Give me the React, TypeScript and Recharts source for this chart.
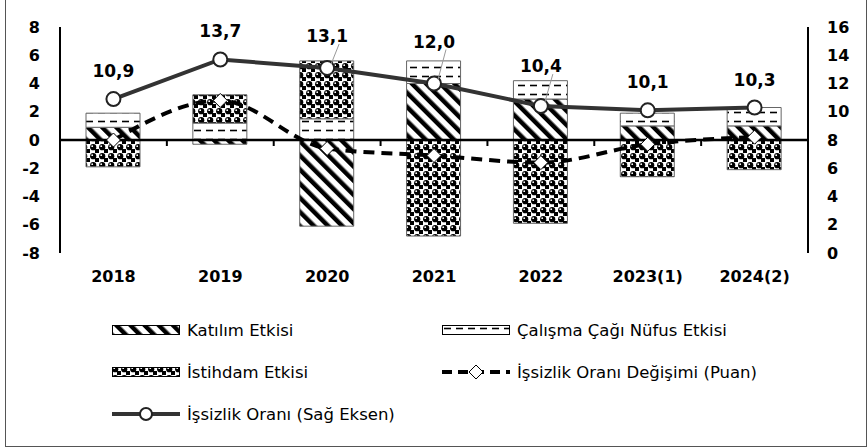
import {
  ComposedChart,
  Bar,
  Line,
  XAxis,
  YAxis,
  ReferenceLine,
  LabelList,
  Legend,
} from 'recharts';

const years = ['2018', '2019', '2020', '2021', '2022', '2023(1)', '2024(2)'];
const katilim = [0.9, -0.3, -6.1, 4.0, 2.9, 1.0, 1.0];
const calismaCagi = [1.0, 1.2, 1.5, 1.6, 1.3, 0.9, 1.3];
const istihdam = [-1.9, 2.0, 4.1, -6.8, -5.9, -2.6, -2.1];
const oranDegisimi = [0.0, 2.8, -0.6, -1.1, -1.6, -0.3, 0.2];
const issizlikOrani = [10.9, 13.7, 13.1, 12.0, 10.4, 10.1, 10.3];

const leftTicks = [-8, -6, -4, -2, 0, 2, 4, 6, 8];
const rightTicks = [0, 2, 4, 6, 8, 10, 12, 14, 16];

// extra lift for the labels that sit over a bar (drawn with a leader line)
const labelLift = [0, 0, 4, 14, 12, 0, 0];

const N_KATILIM = 'Katılım Etkisi';
const N_CALISMA = 'Çalışma Çağı Nüfus Etkisi';
const N_ISTIHDAM = 'İstihdam Etkisi';
const N_DEGISIM = 'İşsizlik Oranı Değişimi (Puan)';
const N_ORAN = 'İşsizlik Oranı (Sağ Eksen)';

const data = years.map((year, i) => ({
  year,
  katilim: katilim[i],
  calisma: calismaCagi[i],
  istihdam: istihdam[i],
  degisim: oranDegisimi[i],
  oran: issizlikOrani[i],
}));

const FONT = '"DejaVu Sans", Verdana, sans-serif';
const tickStyle = { fill: '#000', fontSize: 16, fontWeight: 700, fontFamily: FONT };

function Diamond(props: any) {
  const { cx, cy } = props;
  if (cx == null || cy == null) return null;
  const r = 7;
  return (
    <polygon
      points={`${cx},${cy - r} ${cx + r},${cy} ${cx},${cy + r} ${cx - r},${cy}`}
      fill="#fff"
      stroke="#000"
      strokeWidth={1}
    />
  );
}

// zero line with little ticks between the categories
function ZeroLine(props: any) {
  const { x1, y1, x2, y2 } = props;
  const step = (x2 - x1) / years.length;
  return (
    <g>
      <line x1={x1} y1={y1} x2={x2} y2={y2} stroke="#000" strokeWidth={2.5} />
      {years.slice(1).map((_, i) => (
        <line
          key={i}
          x1={x1 + step * (i + 1)}
          x2={x1 + step * (i + 1)}
          y1={y1}
          y2={y1 + 6}
          stroke="#000"
          strokeWidth={2}
        />
      ))}
    </g>
  );
}

function RateLabel(props: any) {
  const { x, y, width, value, index } = props;
  const cx = x + (width || 0) / 2;
  const lift = labelLift[index] || 0;
  const baseY = y - 22 - lift;
  return (
    <g>
      {lift > 0 && (
        <line x1={cx + 4} y1={y - 4} x2={cx + 12} y2={baseY + 2} stroke="#999" strokeWidth={1} />
      )}
      <text
        x={cx}
        y={baseY}
        textAnchor="middle"
        fill="#000"
        fontSize={17}
        fontWeight={700}
        fontFamily={FONT}
      >
        {Number(value).toFixed(1).replace('.', ',')}
      </text>
    </g>
  );
}

function LegendIcon({ kind }: { kind: string }) {
  if (kind === 'line') {
    return (
      <svg width={68} height={16}>
        <line x1={0} y1={8} x2={68} y2={8} stroke="#333" strokeWidth={4} />
        <circle cx={34} cy={8} r={6} fill="#fff" stroke="#222" strokeWidth={2} />
      </svg>
    );
  }
  if (kind === 'dash') {
    return (
      <svg width={68} height={16}>
        <line x1={0} y1={8} x2={68} y2={8} stroke="#000" strokeWidth={4} strokeDasharray="10 6" />
        <polygon points="34,1 41,8 34,15 27,8" fill="#fff" stroke="#000" strokeWidth={1} />
      </svg>
    );
  }
  return (
    <svg width={68} height={12}>
      <rect x={0.5} y={1.5} width={67} height={9} fill={`url(#${kind})`} stroke="#000" strokeWidth={1} />
    </svg>
  );
}

const legendItems = [
  { name: N_KATILIM, kind: 'pat-hatch' },
  { name: N_CALISMA, kind: 'pat-dash' },
  { name: N_ISTIHDAM, kind: 'pat-balls' },
  { name: N_DEGISIM, kind: 'dash' },
  { name: N_ORAN, kind: 'line' },
];

function ChartLegend() {
  return (
    <div
      style={{
        display: 'grid',
        gridTemplateColumns: '330px 330px',
        gridAutoRows: '42px',
        fontFamily: FONT,
        fontSize: 16.5,
        color: '#000',
      }}
    >
      {legendItems.map((it) => (
        <div key={it.name} style={{ display: 'flex', alignItems: 'center', gap: 7 }}>
          <LegendIcon kind={it.kind} />
          <span>{it.name}</span>
        </div>
      ))}
    </div>
  );
}

export default function App() {
  return (
    <div style={{ position: 'absolute', left: 0, top: 0, width: 868, height: 448, background: '#fff' }}>
      <ComposedChart
        width={868}
        height={448}
        data={data}
        stackOffset="sign"
        margin={{ top: 27, right: 0, bottom: 155, left: 0 }}
        barSize={54}
      >
        <defs>
          <pattern id="pat-hatch" width={10} height={10} patternUnits="userSpaceOnUse" patternTransform="rotate(-45)">
            <rect width={10} height={10} fill="#fff" />
            <rect x={0} y={0} width={4.5} height={10} fill="#000" />
          </pattern>
          <pattern id="pat-dash" width={12} height={9} patternUnits="userSpaceOnUse">
            <rect width={12} height={9} fill="#fff" />
            <line x1={2} y1={4.5} x2={9} y2={4.5} stroke="#000" strokeWidth={1.6} />
          </pattern>
          <pattern id="pat-balls" width={9} height={9} patternUnits="userSpaceOnUse">
            <rect width={9} height={9} fill="#fff" />
            <rect x={5} y={5} width={4} height={4} fill="#000" />
            <circle cx={3.2} cy={3.2} r={3.1} fill="#000" />
            <circle cx={2.2} cy={2.2} r={0.9} fill="#fff" />
          </pattern>
        </defs>
        <XAxis
          dataKey="year"
          axisLine={false}
          tickLine={false}
          tickSize={0}
          tickMargin={18}
          height={40}
          tick={tickStyle}
          interval={0}
        />
        <YAxis
          yAxisId="left"
          domain={[-8, 8]}
          ticks={leftTicks}
          width={60}
          tickLine={false}
          tickSize={0}
          tickMargin={20}
          axisLine={{ stroke: '#000', strokeWidth: 2 }}
          tick={tickStyle}
          allowDataOverflow
        />
        <YAxis
          yAxisId="right"
          orientation="right"
          domain={[0, 16]}
          ticks={rightTicks}
          width={60}
          tickLine={false}
          tickSize={0}
          tickMargin={19}
          axisLine={{ stroke: '#000', strokeWidth: 2 }}
          tick={{ ...tickStyle, textAnchor: 'start' }}
        />
        <Bar yAxisId="left" dataKey="katilim" name={N_KATILIM} stackId="s" fill="url(#pat-hatch)" stroke="#666" strokeWidth={1} isAnimationActive={false} />
        <Bar yAxisId="left" dataKey="calisma" name={N_CALISMA} stackId="s" fill="url(#pat-dash)" stroke="#666" strokeWidth={1} isAnimationActive={false} />
        <Bar yAxisId="left" dataKey="istihdam" name={N_ISTIHDAM} stackId="s" fill="url(#pat-balls)" stroke="#666" strokeWidth={1} isAnimationActive={false} />
        <ReferenceLine yAxisId="left" y={0} shape={ZeroLine} />
        <Line
          yAxisId="left"
          type="monotone"
          dataKey="degisim"
          name={N_DEGISIM}
          stroke="#000"
          strokeWidth={4}
          strokeDasharray="11 7"
          dot={<Diamond />}
          activeDot={false}
          isAnimationActive={false}
        />
        <Line
          yAxisId="right"
          type="linear"
          dataKey="oran"
          name={N_ORAN}
          stroke="#333"
          strokeWidth={4}
          dot={{ r: 7, fill: '#fff', stroke: '#222', strokeWidth: 2 }}
          activeDot={false}
          isAnimationActive={false}
        >
          <LabelList dataKey="oran" content={<RateLabel />} />
        </Line>
        <Legend
          layout="horizontal"
          verticalAlign="middle"
          align="center"
          wrapperStyle={{ top: 309, left: 112, width: 700 }}
          content={<ChartLegend />}
        />
      </ComposedChart>
      <div
        style={{
          position: 'absolute',
          left: 5,
          top: -2,
          width: 862,
          height: 449,
          border: '1px solid #555',
          boxSizing: 'border-box',
          pointerEvents: 'none',
          zIndex: 10,
        }}
      />
    </div>
  );
}
